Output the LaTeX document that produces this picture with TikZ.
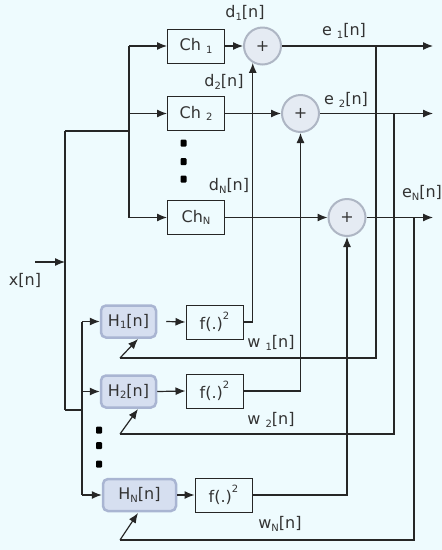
\documentclass[tikz,border=0pt]{standalone}
\usepackage{fontspec}
\setmainfont{DejaVu Sans}
\usetikzlibrary{arrows.meta}
\definecolor{bg}{HTML}{EEFBFE}
\definecolor{txt}{HTML}{333333}
\definecolor{hfill}{HTML}{D6DFF0}
\definecolor{hdraw}{HTML}{A9B5D2}
\definecolor{sfill}{HTML}{E5EBF3}
\definecolor{sdraw}{HTML}{AEB6C4}
\newcommand{\lo}[1]{\raisebox{-0.25ex}{\fontsize{10}{10}\selectfont #1}}
\newcommand{\hi}[1]{\raisebox{1.1ex}{\fontsize{10}{10}\selectfont #1}}
\begin{document}
\begin{tikzpicture}[x=1pt,y=-1pt,
  every node/.style={font=\fontsize{16}{18}\selectfont, text=txt},
  wire/.style={draw=black!85, line width=1.2pt},
  arr/.style={wire, -{Latex[length=10pt,width=8pt]}},
  plainbox/.style={draw=black!85, line width=1pt, fill=bg, minimum width=57pt, minimum height=34pt, inner sep=0pt},
  hbox/.style={draw=hdraw, line width=2.5pt, fill=hfill, rounded corners=5pt, minimum height=32pt, inner sep=0pt},
  sumnode/.style={circle, draw=sdraw, line width=2pt, fill=sfill, minimum size=37pt, inner sep=0pt},
  lbl/.style={inner sep=0pt},
  dot/.style={fill=black, minimum width=6pt, minimum height=7pt, inner sep=0pt, rounded corners=1pt}]
\fill[bg] (0,0) rectangle (442,550);
\useasboundingbox (0,0) rectangle (442,550);

% channel boxes
\node[plainbox] (ch1) at (196,46) {Ch \lo{1}};
\node[plainbox] (ch2) at (196,113.5) {Ch \lo{2}};
\node[plainbox] (chN) at (196,217.5) {Ch\lo{N}};
% sums
\node[sumnode] (s1) at (262.5,46) {+};
\node[sumnode] (s2) at (300.5,113.5) {+};
\node[sumnode] (sN) at (347,217.5) {+};
% adaptive filters
\node[hbox, minimum width=55pt] (h1) at (128.5,321.5) {H\lo{1}[n]};
\node[hbox, minimum width=55pt] (h2) at (128.5,391.5) {H\lo{2}[n]};
\node[hbox, minimum width=73pt] (hN) at (139.5,495) {H\lo{N}[n]};
% squaring
\node[plainbox] (f1) at (214.5,322) {f(.)\hi{2}};
\node[plainbox] (f2) at (214.5,391) {f(.)\hi{2}};
\node[plainbox] (fN) at (223.5,495) {f(.)\hi{2}};

% dots
\node[dot] (cd1) at (183.5,143) {};
\node[dot] (cd2) at (183.5,161.5) {};
\node[dot] (cd3) at (183.5,179) {};
\node[dot] (hd1) at (99,430) {};
\node[dot] (hd2) at (99,445.5) {};
\node[dot] (hd3) at (99,464) {};

% coordinates
\coordinate (xin) at (35,262);
\coordinate (xj) at (65,262);
\coordinate (jt) at (65,131);
\coordinate (jb) at (65,410);
\coordinate (cbt) at (129,46);
\coordinate (cbm) at (129,131);
\coordinate (cbb) at (129,217.5);
\coordinate (hbt) at (82,321.5);
\coordinate (hbm) at (82,410);
\coordinate (hbb) at (82,495);
\coordinate (o1) at (433,46);
\coordinate (o2) at (433,113.5);
\coordinate (oN) at (433,217.5);
\coordinate (fb1) at (120,358);
\coordinate (fb2) at (120,434);
\coordinate (fbN) at (120,540);
\coordinate (tp1) at (138,339);
\coordinate (tp2) at (138,409);
\coordinate (tpN) at (138,513);
\coordinate (tap1) at (376,46);
\coordinate (tap2) at (394,113.5);
\coordinate (tapN) at (414,217.5);

% input
\draw[arr] (xin) -- (xj);
\draw[wire] (jt) -- (jb);
\draw[wire] (jt) -- (cbm);
\draw[wire] (cbt) -- (cbb);
\draw[arr] (cbt) -- (ch1.west);
\draw[arr] (cbm |- ch2.west) -- (ch2.west);
\draw[arr] (cbb) -- (chN.west);
\draw[wire] (jb) -- (hbm);
\draw[wire] (hbt) -- (hbb);
\draw[arr] (hbt) -- (h1.west);
\draw[arr] (hbm |- h2.west) -- (h2.west);
\draw[arr] (hbb) -- (hN.west);

% channels to sums
\draw[arr] (ch1.east) -- (s1.west);
\draw[arr] (ch2.east) -- (s2.west);
\draw[arr] (chN.east) -- (sN.west);
\draw[arr] (s1.east) -- (o1);
\draw[arr] (s2.east) -- (o2);
\draw[arr] (sN.east) -- (oN);

% H to f
\draw[arr] (h1.east) ++(9,0) -- (f1.west);
\draw[arr] (h2.east) -- (f2.west);
\draw[arr] (hN.east) -- (fN.west);

% f to sums
\draw[arr] (f1.east) -| (s1.240);
\draw[arr] (f2.east) -| (s2.south);
\draw[arr] (fN.east) -| (sN.south);

% feedback
\draw[wire] (fb1) -| (tap1);
\draw[wire] (fb2) -| (tap2);
\draw[wire] (fbN) -| (tapN);
\draw[arr] (fb1) -- (tp1);
\draw[arr] (fb2) -- (tp2);
\draw[arr] (fbN) -- (tpN);

% labels
\node[lbl] (ld1) at (245,13) {d\lo{1}[n]};
\node[lbl] (le1) at (344,31) {e \lo{1}[n]};
\node[lbl] (ld2) at (224,82) {d\lo{2}[n]};
\node[lbl] (le2) at (346,100) {e \lo{2}[n]};
\node[lbl] (ldN) at (229,186) {d\lo{N}[n]};
\node[lbl] (leN) at (422,193) {e\lo{N}[n]};
\node[lbl] (lw1) at (271,343) {w \lo{1}[n]};
\node[lbl] (lw2) at (271,420) {w \lo{2}[n]};
\node[lbl] (lwN) at (280,524) {w\lo{N}[n]};
\node[lbl] (lx) at (25,280) {x[n]};
\end{tikzpicture}
\end{document}
